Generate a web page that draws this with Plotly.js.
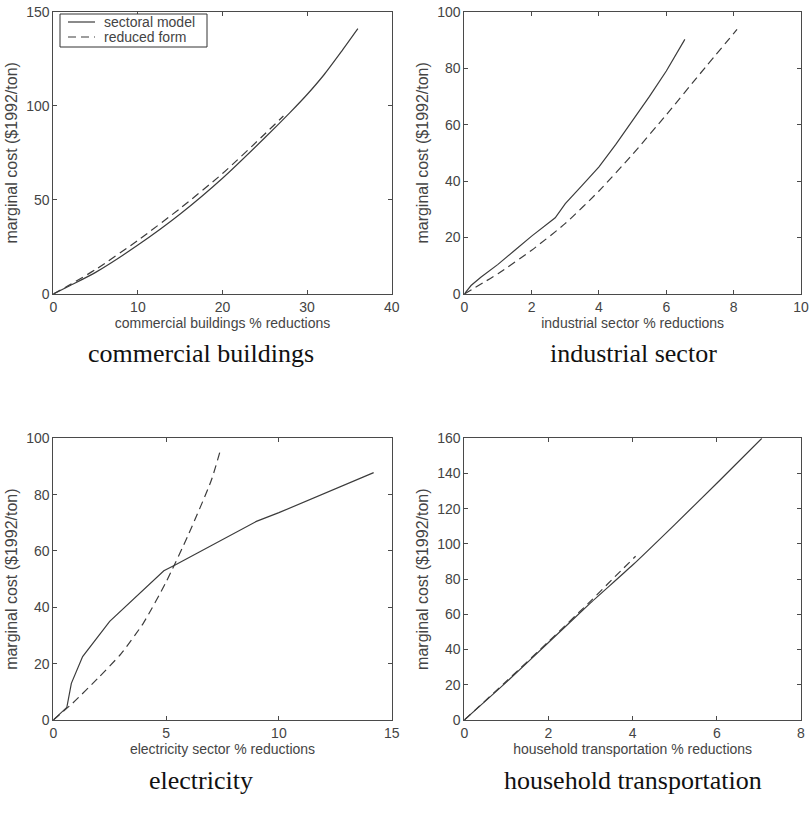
<!DOCTYPE html>
<html>
<head>
<meta charset="utf-8">
<script src="https://cdn.plot.ly/plotly-3.0.1.min.js"></script>
<style>html,body{margin:0;padding:0;background:#fff}#chart{width:810px;height:824px}</style>
</head>
<body>
<div id="chart"></div>
<script>
// ---- data ----
var seriesNames = ["sectoral model", "reduced form"];

var comSectX = [0, 2, 5, 10, 15, 20, 25, 28, 30, 32, 34, 36];
var comSectY = [0, 4.5, 11.5, 26, 42.5, 61.5, 83, 96.5, 106, 116.5, 128.5, 141];
var comRedX  = [0, 2, 5, 10, 15, 20, 25, 27.2];
var comRedY  = [0, 5, 13, 28.5, 45.5, 64, 85, 94.6];

var indSectX = [0, 0.2, 0.5, 1, 1.5, 2, 2.7, 3, 3.5, 4, 4.5, 5, 5.5, 6, 6.55];
var indSectY = [0, 3, 6, 10.5, 15.5, 20.5, 27, 32, 38.5, 45, 53, 61.5, 70, 79, 90.2];
var indRedX  = [0, 1, 2, 3, 4, 5, 6, 7, 8.1];
var indRedY  = [0, 7.2, 15.5, 25, 36.5, 49.5, 63.5, 78, 93.7];

var eleSectX = [0, 0.6, 0.8, 1.3, 2.5, 3.5, 4.9, 5.4, 7, 9, 10, 14.2];
var eleSectY = [0, 4.5, 13, 22.5, 35, 42.6, 53, 55, 62, 70.5, 73.6, 87.8];
var eleRedX  = [0, 0.86, 2, 3, 4, 5, 6, 7, 7.39];
var eleRedY  = [0, 6, 15, 23.5, 34.5, 49, 66, 85, 95.3];

var houSectX = [0, 1, 2, 3, 4, 5, 6, 7.07];
var houSectY = [0, 21.5, 44, 66.5, 88, 111, 134.5, 160];
var houRedX  = [0, 1, 2, 3, 3.5, 4.07];
var houRedY  = [0, 22, 44.5, 67.5, 79.5, 93];

var xTitles = ["commercial buildings % reductions", "industrial sector % reductions",
               "electricity sector % reductions", "household transportation % reductions"];
var yTitle = "marginal cost ($1992/ton)";
var captions = ["commercial buildings", "industrial sector", "electricity", "household transportation"];
var xRanges = [[0, 40], [0, 10], [0, 15], [0, 8]];
var yRanges = [[0, 150], [0, 100], [0, 100], [0, 160]];
var xDticks = [10, 2, 5, 2];
var yDticks = [50, 20, 20, 20];

// ---- styling ----
var W = 810, H = 824;
var lineCol = "#3c3c3c";
var axCol = "#4a4a4a";
var txtCol = "#444";
var sans = "Liberation Sans, Arial, sans-serif";
var serif = "Liberation Serif, Times New Roman, serif";
var dashPat = "8px,5px";

function px2x(p) { return p / W; }
function px2y(p) { return 1 - p / H; }

var xDomL = [px2x(53.3), px2x(391.7)];
var xDomR = [px2x(464.3), px2x(801)];
var yDomT = [px2y(294), px2y(11.7)];
var yDomB = [px2y(720), px2y(438.3)];

var sets = [
  [comSectX, comSectY, comRedX, comRedY, "spline", "spline"],
  [indSectX, indSectY, indRedX, indRedY, "linear", "spline"],
  [eleSectX, eleSectY, eleRedX, eleRedY, "linear", "spline"],
  [houSectX, houSectY, houRedX, houRedY, "spline", "spline"]
];

var traces = [];
sets.forEach(function (s, i) {
  var xa = i === 0 ? "x" : "x" + (i + 1);
  var ya = i === 0 ? "y" : "y" + (i + 1);
  traces.push({x: s[0], y: s[1], xaxis: xa, yaxis: ya, type: "scatter", mode: "lines",
    name: seriesNames[0], showlegend: false,
    line: {color: lineCol, width: 1.2, shape: s[4], smoothing: 0.6}});
  traces.push({x: s[2], y: s[3], xaxis: xa, yaxis: ya, type: "scatter", mode: "lines",
    name: seriesNames[1], showlegend: false,
    line: {color: lineCol, width: 1.2, dash: dashPat, shape: s[5], smoothing: 0.6}});
});

var layout = {
  width: W, height: H,
  margin: {l: 0, r: 0, t: 0, b: 0},
  paper_bgcolor: "#fff", plot_bgcolor: "#fff",
  font: {family: sans, color: txtCol, size: 14},
  showlegend: false,
  annotations: [],
  shapes: []
};

var domX = [xDomL, xDomR, xDomL, xDomR];
var domY = [yDomT, yDomT, yDomB, yDomB];
for (var i = 0; i < 4; i++) {
  var sfx = i === 0 ? "" : String(i + 1);
  layout["xaxis" + sfx] = {
    domain: domX[i], range: xRanges[i], dtick: xDticks[i], tick0: 0,
    anchor: "y" + sfx, showgrid: false, zeroline: false,
    showline: true, linecolor: axCol, linewidth: 1, mirror: "ticks",
    ticks: "inside", ticklen: 4, tickcolor: axCol,
    tickfont: {family: sans, size: 14, color: txtCol},
    title: {text: xTitles[i], font: {family: sans, size: 14, color: txtCol}, standoff: 4}
  };
  layout["yaxis" + sfx] = {
    domain: domY[i], range: yRanges[i], dtick: yDticks[i], tick0: 0,
    anchor: "x" + sfx, showgrid: false, zeroline: false,
    showline: true, linecolor: axCol, linewidth: 1, mirror: "ticks",
    ticks: "inside", ticklen: 4, tickcolor: axCol,
    tickfont: {family: sans, size: 14, color: txtCol},
    title: {text: yTitle, font: {family: sans, size: 16, color: txtCol}, standoff: 4}
  };
}

// legend box (top-left panel)
layout.shapes.push({type: "rect", xref: "paper", yref: "paper",
  x0: px2x(60), x1: px2x(207), y0: px2y(47), y1: px2y(14),
  line: {color: "#333", width: 1}, fillcolor: "#fff", layer: "above"});
var legY = [22, 37];
var legDash = ["solid", dashPat];
seriesNames.forEach(function (n, k) {
  layout.shapes.push({type: "line", xref: "paper", yref: "paper",
    x0: px2x(68), x1: px2x(95), y0: px2y(legY[k]), y1: px2y(legY[k]),
    line: {color: lineCol, width: 1.2, dash: legDash[k]}, layer: "above"});
  layout.annotations.push({text: n, xref: "paper", yref: "paper",
    x: px2x(102), y: px2y(legY[k]), xanchor: "left", yanchor: "middle",
    showarrow: false, font: {family: sans, size: 14, color: txtCol}});
});

var capX = [201, 633, 201, 633];
var capY = [353, 353, 780, 780];
captions.forEach(function (c, i) {
  layout.annotations.push({
    text: c, xref: "paper", yref: "paper", x: px2x(capX[i]), y: px2y(capY[i]),
    xanchor: "center", yanchor: "middle", showarrow: false,
    font: {family: serif, size: 26, color: "#111"}
  });
});

Plotly.newPlot("chart", traces, layout, {displayModeBar: false, staticPlot: true});
</script>
</body>
</html>
